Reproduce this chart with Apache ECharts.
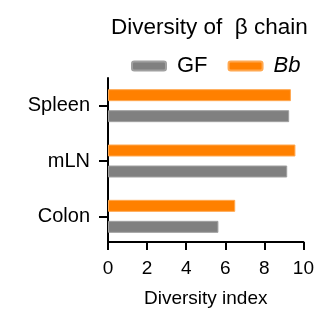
<!DOCTYPE html>
<html>
<head>
<meta charset="utf-8">
<script src="https://cdn.jsdelivr.net/npm/echarts@6/dist/echarts.min.js"></script>
<style>
  html, body { margin: 0; padding: 0; background: #fff; }
  #chart { width: 317px; height: 313px; }
</style>
</head>
<body>
<div id="chart"></div>
<script>
// categories bottom -> top
const tissues = ['Colon', 'mLN', 'Spleen']
const gfValues = [5.65, 9.17, 9.27]
const bbValues = [6.51, 9.59, 9.36]
const xTicks = [0, 2, 4, 6, 8, 10]

const font = 'Liberation Sans, Arial, sans-serif'

echarts.init(document.getElementById('chart')).setOption({
  animation: false,
  title: {
    text: 'Diversity of  β chain',
    left: 106,
    top: 11,
    textStyle: { fontFamily: font, fontSize: 22.5, fontWeight: 'normal', color: '#000' }
  },
  legend: {
    left: 126,
    top: 50,
    itemWidth: 34,
    itemHeight: 9,
    itemGap: 20,
    data: ['GF', 'Bb'],
    formatter: (name) => (name === 'Bb' ? '{i|Bb}' : name),
    textStyle: {
      fontFamily: font,
      fontSize: 22,
      color: '#000',
      padding: [0, 0, 0, 6],
      rich: {
        i: { fontFamily: font, fontSize: 22, fontStyle: 'italic', color: '#000' }
      }
    }
  },
  grid: { left: 108, right: 12, top: 78, height: 170 },
  xAxis: {
    type: 'value',
    min: 0,
    max: 10,
    interval: 2,
    offset: -2,
    name: 'Diversity index',
    nameLocation: 'middle',
    nameGap: 47,
    nameTextStyle: { fontFamily: font, fontSize: 19, color: '#000' },
    splitLine: { show: false },
    axisLine: { show: true, lineStyle: { color: '#000', width: 2 } },
    axisTick: { show: true, length: 8, lineStyle: { color: '#000', width: 2 } },
    axisLabel: {
      fontFamily: font,
      fontSize: 19,
      color: '#000',
      margin: 17,
      formatter: (v) => (xTicks.includes(v) ? String(v) : '')
    }
  },
  yAxis: {
    type: 'category',
    data: tissues,
    axisLine: { show: true, lineStyle: { color: '#000', width: 2 } },
    axisTick: { show: true, alignWithLabel: true, length: 9, lineStyle: { color: '#000', width: 2 } },
    axisLabel: { fontFamily: font, fontSize: 20, color: '#000', margin: 18 }
  },
  series: [
    {
      name: 'Bb',
      type: 'bar',
      data: bbValues,
      barWidth: 12,
      barGap: '75%',
      itemStyle: { color: '#ff8000', borderColor: '#ffa850', borderWidth: 1 }
    },
    {
      name: 'GF',
      type: 'bar',
      data: gfValues,
      barWidth: 12,
      barGap: '75%',
      itemStyle: { color: '#808080', borderColor: '#a0a0a0', borderWidth: 1 }
    }
  ]
})
</script>
</body>
</html>
